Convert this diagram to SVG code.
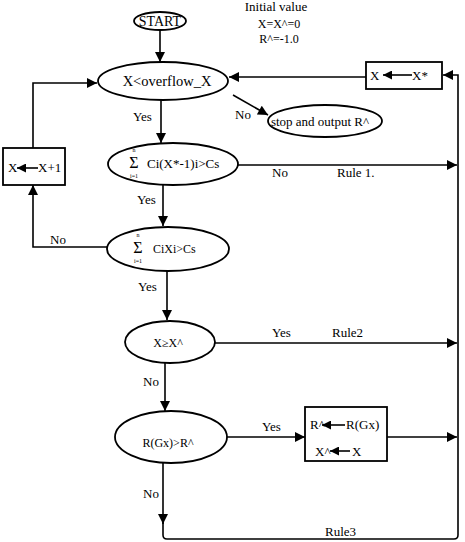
<svg xmlns="http://www.w3.org/2000/svg" width="465" height="542" viewBox="0 0 465 542">
<style>
text{font-family:"Liberation Serif","Times New Roman",serif;fill:#000;font-size:13px}
.c{text-anchor:middle}
.sm{font-size:6px}
.sig{font-size:16px}
.n{fill:#fff;stroke:#000;stroke-width:1.8}
.e{fill:none;stroke:#000;stroke-width:1.6}
</style>
<defs>
<marker id="ah" viewBox="0 0 10 10" refX="10" refY="5" markerWidth="13" markerHeight="10" markerUnits="userSpaceOnUse" orient="auto">
<path d="M0,0 L10,5 L0,10 z" fill="#000"/>
</marker>
<marker id="ahs" viewBox="0 0 10 10" refX="10" refY="5" markerWidth="11" markerHeight="9" markerUnits="userSpaceOnUse" orient="auto">
<path d="M0,0 L10,5 L0,10 z" fill="#000"/>
</marker>
</defs>

<g id="init-note">
<text class="c" x="276" y="11">Initial value</text>
<text class="c" x="279" y="28" style="font-size:12px">X=X^=0</text>
<text class="c" x="279" y="43" style="font-size:12px">R^=-1.0</text>
</g>

<g id="connectors">
<line class="e" x1="160" y1="30" x2="160" y2="62" marker-end="url(#ah)"/>
<line class="e" x1="161" y1="100" x2="161" y2="143" marker-end="url(#ah)"/>
<line class="e" x1="233" y1="95" x2="268" y2="115" marker-end="url(#ah)"/>
<line class="e" x1="366" y1="77" x2="229" y2="77" marker-end="url(#ah)"/>
<line class="e" x1="163" y1="185" x2="163" y2="226" marker-end="url(#ah)"/>
<line class="e" x1="238" y1="165" x2="457" y2="165" marker-end="url(#ah)"/>
<line class="e" x1="167" y1="271" x2="167" y2="320" marker-end="url(#ah)"/>
<path class="e" d="M107,247 H33 V185" marker-end="url(#ah)"/>
<path class="e" d="M33,148 V83 H97" marker-end="url(#ah)"/>
<line class="e" x1="215" y1="343" x2="457" y2="343" marker-end="url(#ah)"/>
<line class="e" x1="165" y1="363" x2="165" y2="411" marker-end="url(#ah)"/>
<line class="e" x1="227" y1="437" x2="305" y2="437" marker-end="url(#ah)"/>
<line class="e" x1="387" y1="437" x2="457" y2="437" marker-end="url(#ah)"/>
<line class="e" x1="163" y1="462" x2="163" y2="524" marker-end="url(#ah)"/>
<path class="e" d="M163,522 V535 Q163,539 167,539 H454 Q458,539 458,535 V75 H443" marker-end="url(#ah)"/>
<text x="133" y="121">Yes</text>
<text x="235" y="119">No</text>
<text x="272" y="177">No</text>
<text x="337" y="177">Rule 1.</text>
<text x="137" y="204">Yes</text>
<text x="50" y="244">No</text>
<text x="138" y="291">Yes</text>
<text x="272" y="337">Yes</text>
<text x="332" y="337">Rule2</text>
<text x="143" y="386">No</text>
<text x="262" y="431">Yes</text>
<text x="143" y="498">No</text>
<text x="325" y="536">Rule3</text>
</g>

<g id="start">
<ellipse class="n" cx="160" cy="21" rx="26" ry="9"/>
<text class="c" x="160" y="26" style="font-size:14px">START</text>
</g>

<g id="overflow-test">
<ellipse class="n" cx="163" cy="81" rx="65" ry="19"/>
<text class="c" x="167" y="86" style="font-size:14.5px">X&lt;overflow_X</text>
</g>

<g id="stop">
<ellipse class="n" cx="325" cy="121" rx="57" ry="16"/>
<text class="c" x="320" y="126">stop and output R^</text>
</g>

<g id="set-x-best">
<rect class="n" x="366" y="62" width="76" height="27"/>
<text x="370" y="80">X</text>
<line class="e" x1="412" y1="75" x2="383" y2="75" marker-end="url(#ahs)"/>
<text x="412" y="80">X*</text>
</g>

<g id="sum-test-1">
<ellipse class="n" cx="173" cy="164" rx="65" ry="21"/>
<text class="c sig" x="134" y="168">Σ</text>
<text class="c sm" x="134" y="152">n</text>
<text class="c sm" x="134" y="178">i=1</text>
<text x="147" y="168">Ci(X*-1)i&gt;Cs</text>
</g>

<g id="increment-x">
<rect class="n" x="3" y="148" width="62" height="37"/>
<text x="8" y="172">X</text>
<line class="e" x1="38" y1="168" x2="17" y2="168" marker-end="url(#ahs)"/>
<text x="38" y="172">X+1</text>
</g>

<g id="sum-test-2">
<ellipse class="n" cx="168" cy="249" rx="61" ry="22"/>
<text class="c sig" x="138" y="253">Σ</text>
<text class="c sm" x="138" y="237">n</text>
<text class="c sm" x="138" y="263">i=1</text>
<text x="153" y="253" style="font-size:12px">CiXi&gt;Cs</text>
</g>

<g id="x-ge-test">
<ellipse class="n" cx="170" cy="342" rx="45" ry="21"/>
<text class="c" x="168" y="347" style="font-size:12px">X≥X^</text>
</g>

<g id="r-test">
<ellipse class="n" cx="171" cy="437" rx="56" ry="26"/>
<text class="c" x="168" y="447" style="font-size:12px">R(Gx)&gt;R^</text>
</g>

<g id="update-best">
<rect class="n" x="305" y="407" width="82" height="54"/>
<text x="310" y="429">R^</text>
<line class="e" x1="345" y1="425" x2="322" y2="425" marker-end="url(#ahs)"/>
<text x="346" y="429">R(Gx)</text>
<text x="315" y="456">X^</text>
<line class="e" x1="350" y1="451" x2="330" y2="451" marker-end="url(#ahs)"/>
<text x="352" y="456">X</text>
</g>
</svg>
